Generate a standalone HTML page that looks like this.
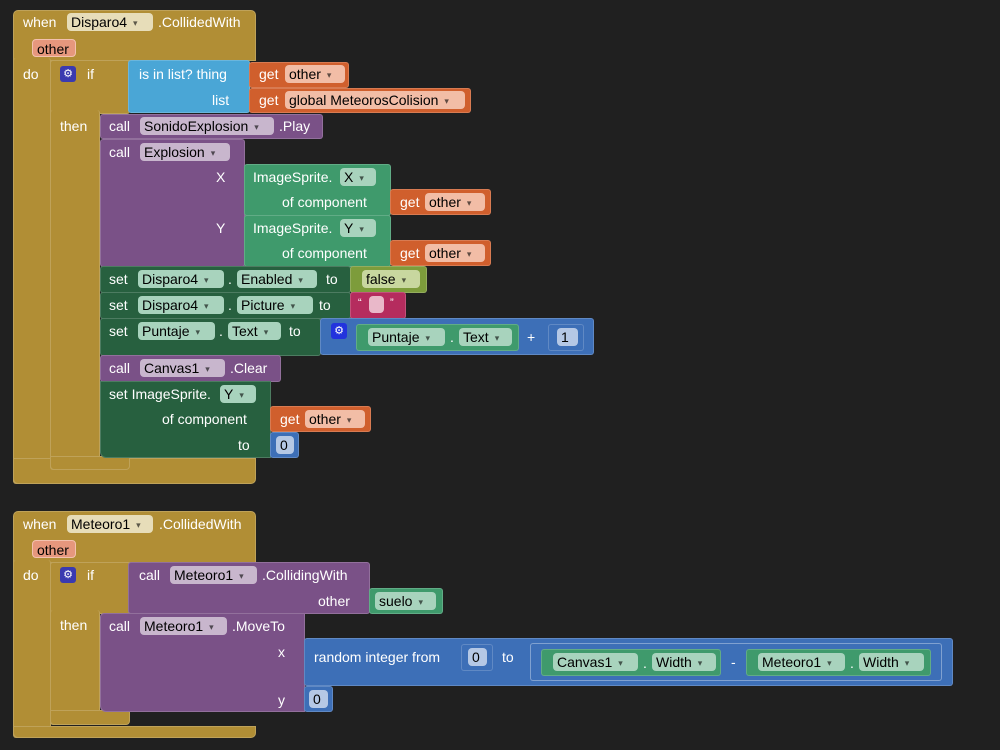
<!DOCTYPE html>
<html><head><meta charset="utf-8"><style>
body{margin:0;background:#202020;width:1000px;height:750px;overflow:hidden;position:relative;font-family:"Liberation Sans",sans-serif;font-size:14px}
.b{position:absolute;box-sizing:border-box;border:1px solid rgba(255,255,255,.18);border-radius:3px}
.t{position:absolute;color:#fff;line-height:16px;white-space:nowrap}
.d{position:absolute;height:18px;line-height:18px;border-radius:4px;padding:0 4px;color:#000;white-space:nowrap;box-sizing:border-box}
.d i{font-style:normal;font-size:9px;margin-left:6px;opacity:.6;vertical-align:1px}
.g{background:#b18e35}.p{background:#7a5187}.o{background:#d05f2d}.gr{background:#3f9a6c}.dg{background:#27603f}.bl{background:#3d6fb7}
.fg{background:#e7ddb9}.fo{background:#f2bda6}.fgr{background:#a8d3bd}.fp{background:#c8b6cd}.fb{background:#b5c8e5}
</style></head><body>

<!-- Event 1 -->
<div class="b g" style="left:13px;top:10px;width:243px;height:51px;border-radius:5px 5px 0 0"></div>
<div class="b g" style="left:13px;top:58px;width:38px;height:426px;border-top:none"></div>
<div class="b g" style="left:13px;top:458px;width:243px;height:26px;border-radius:0 0 5px 5px"></div>
<div class="t" style="left:23px;top:14px">when</div>
<div class="d fg" style="left:67px;top:13px;width:86px">Disparo4<i>▾</i></div>
<div class="t" style="left:158px;top:14px">.CollidedWith</div>
<div class="d" style="left:32px;top:39px;width:44px;background:#e6977d;border:1px solid #f3c1ae">other</div>
<div class="t" style="left:23px;top:66px">do</div>

<div class="b g" style="left:50px;top:60px;width:80px;height:54px"></div>
<div class="b g" style="left:50px;top:110px;width:50px;height:360px;border-top:none"></div>
<div class="b g" style="left:50px;top:456px;width:80px;height:14px;border-radius:0 0 4px 4px"></div>
<div style="position:absolute;left:60px;top:66px;width:16px;height:16px;background:#3a3ab0;border-radius:3px;color:#fff;font-size:11px;text-align:center;line-height:16px">⚙</div>
<div class="t" style="left:87px;top:66px">if</div>
<div class="t" style="left:60px;top:118px">then</div>

<div class="b" style="left:128px;top:60px;width:122px;height:53px;background:#4aa6d6"></div>
<div class="t" style="left:139px;top:66px">is in list? thing</div>
<div class="t" style="left:212px;top:92px">list</div>
<div class="b o" style="left:249px;top:62px;width:100px;height:26px"></div>
<div class="t" style="left:259px;top:66px">get</div>
<div class="d fo" style="left:285px;top:65px;width:60px">other<i>▾</i></div>
<div class="b o" style="left:249px;top:88px;width:222px;height:25px"></div>
<div class="t" style="left:259px;top:92px">get</div>
<div class="d fo" style="left:285px;top:91px;width:180px">global MeteorosColision<i>▾</i></div>

<div class="b p" style="left:100px;top:114px;width:223px;height:25px"></div>
<div class="t" style="left:109px;top:118px">call</div>
<div class="d fp" style="left:140px;top:117px;width:134px">SonidoExplosion<i>▾</i></div>
<div class="t" style="left:279px;top:118px">.Play</div>

<div class="b p" style="left:100px;top:139px;width:145px;height:128px"></div>
<div class="t" style="left:109px;top:144px">call</div>
<div class="d fp" style="left:140px;top:143px;width:90px">Explosion<i>▾</i></div>
<div class="t" style="left:216px;top:169px">X</div>
<div class="t" style="left:216px;top:220px">Y</div>
<div class="b gr" style="left:244px;top:164px;width:147px;height:52px"></div>
<div class="t" style="left:253px;top:169px">ImageSprite.</div>
<div class="d fgr" style="left:340px;top:168px;width:36px">X<i>▾</i></div>
<div class="t" style="left:282px;top:194px">of component</div>
<div class="b o" style="left:390px;top:189px;width:101px;height:26px"></div>
<div class="t" style="left:400px;top:194px">get</div>
<div class="d fo" style="left:425px;top:193px;width:60px">other<i>▾</i></div>
<div class="b gr" style="left:244px;top:215px;width:147px;height:52px"></div>
<div class="t" style="left:253px;top:220px">ImageSprite.</div>
<div class="d fgr" style="left:340px;top:219px;width:36px">Y<i>▾</i></div>
<div class="t" style="left:282px;top:245px">of component</div>
<div class="b o" style="left:390px;top:240px;width:101px;height:26px"></div>
<div class="t" style="left:400px;top:245px">get</div>
<div class="d fo" style="left:425px;top:244px;width:60px">other<i>▾</i></div>

<div class="b dg" style="left:100px;top:266px;width:251px;height:27px"></div>
<div class="t" style="left:109px;top:271px">set</div>
<div class="d fgr" style="left:138px;top:270px;width:86px">Disparo4<i>▾</i></div>
<div class="t" style="left:228px;top:271px">.</div>
<div class="d fgr" style="left:237px;top:270px;width:80px">Enabled<i>▾</i></div>
<div class="t" style="left:326px;top:271px">to</div>
<div class="b" style="left:350px;top:266px;width:77px;height:27px;background:#7d9c3b"></div>
<div class="d" style="left:362px;top:270px;width:58px;background:#c8d79f">false<i>▾</i></div>

<div class="b dg" style="left:100px;top:292px;width:251px;height:27px"></div>
<div class="t" style="left:109px;top:297px">set</div>
<div class="d fgr" style="left:138px;top:296px;width:86px">Disparo4<i>▾</i></div>
<div class="t" style="left:228px;top:297px">.</div>
<div class="d fgr" style="left:237px;top:296px;width:76px">Picture<i>▾</i></div>
<div class="t" style="left:319px;top:297px">to</div>
<div class="b" style="left:350px;top:292px;width:56px;height:27px;background:#b52c5e"></div>
<div class="t" style="left:358px;top:295px;font-size:11px">“</div>
<div style="position:absolute;left:369px;top:296px;width:15px;height:17px;background:#e9b8c9;border-radius:4px"></div>
<div class="t" style="left:390px;top:295px;font-size:11px">”</div>

<div class="b dg" style="left:100px;top:318px;width:221px;height:38px"></div>
<div class="t" style="left:109px;top:323px">set</div>
<div class="d fgr" style="left:138px;top:322px;width:77px">Puntaje<i>▾</i></div>
<div class="t" style="left:219px;top:323px">.</div>
<div class="d fgr" style="left:228px;top:322px;width:53px">Text<i>▾</i></div>
<div class="t" style="left:289px;top:323px">to</div>
<div class="b bl" style="left:320px;top:318px;width:274px;height:37px"></div>
<div style="position:absolute;left:331px;top:323px;width:16px;height:16px;background:#2233dd;border-radius:3px;color:#fff;font-size:11px;text-align:center;line-height:16px">⚙</div>
<div class="b gr" style="left:356px;top:324px;width:163px;height:27px"></div>
<div class="d fgr" style="left:368px;top:328px;width:77px">Puntaje<i>▾</i></div>
<div class="t" style="left:450px;top:329px">.</div>
<div class="d fgr" style="left:459px;top:328px;width:53px">Text<i>▾</i></div>
<div class="t" style="left:527px;top:329px">+</div>
<div class="b bl" style="left:548px;top:324px;width:36px;height:27px"></div>
<div class="d fb" style="left:557px;top:328px;width:21px">1</div>

<div class="b p" style="left:100px;top:355px;width:181px;height:27px"></div>
<div class="t" style="left:109px;top:360px">call</div>
<div class="d fp" style="left:140px;top:359px;width:85px">Canvas1<i>▾</i></div>
<div class="t" style="left:230px;top:360px">.Clear</div>

<div class="b dg" style="left:100px;top:381px;width:171px;height:77px;border-radius:0 0 0 6px"></div>
<div class="t" style="left:109px;top:386px">set ImageSprite.</div>
<div class="d fgr" style="left:220px;top:385px;width:36px">Y<i>▾</i></div>
<div class="t" style="left:162px;top:411px">of component</div>
<div class="t" style="left:238px;top:437px">to</div>
<div class="b o" style="left:270px;top:406px;width:101px;height:26px"></div>
<div class="t" style="left:280px;top:411px">get</div>
<div class="d fo" style="left:305px;top:410px;width:60px">other<i>▾</i></div>
<div class="b bl" style="left:270px;top:432px;width:29px;height:26px"></div>
<div class="d fb" style="left:276px;top:436px;width:18px">0</div>

<!-- Event 2 -->
<div class="b g" style="left:13px;top:511px;width:243px;height:52px;border-radius:5px 5px 0 0"></div>
<div class="b g" style="left:13px;top:560px;width:38px;height:178px;border-top:none"></div>
<div class="b g" style="left:13px;top:726px;width:243px;height:12px;border-radius:0 0 5px 5px"></div>
<div class="t" style="left:23px;top:516px">when</div>
<div class="d fg" style="left:67px;top:515px;width:86px">Meteoro1<i>▾</i></div>
<div class="t" style="left:159px;top:516px">.CollidedWith</div>
<div class="d" style="left:32px;top:540px;width:44px;background:#e6977d;border:1px solid #f3c1ae">other</div>
<div class="t" style="left:23px;top:567px">do</div>

<div class="b g" style="left:50px;top:562px;width:80px;height:52px"></div>
<div class="b g" style="left:50px;top:610px;width:50px;height:115px;border-top:none"></div>
<div class="b g" style="left:50px;top:710px;width:80px;height:15px;border-radius:0 0 4px 4px"></div>
<div style="position:absolute;left:60px;top:567px;width:16px;height:16px;background:#3a3ab0;border-radius:3px;color:#fff;font-size:11px;text-align:center;line-height:16px">⚙</div>
<div class="t" style="left:87px;top:567px">if</div>
<div class="t" style="left:60px;top:617px">then</div>

<div class="b p" style="left:128px;top:562px;width:242px;height:52px"></div>
<div class="t" style="left:139px;top:567px">call</div>
<div class="d fp" style="left:170px;top:566px;width:87px">Meteoro1<i>▾</i></div>
<div class="t" style="left:262px;top:567px">.CollidingWith</div>
<div class="t" style="left:318px;top:593px">other</div>
<div class="b gr" style="left:369px;top:588px;width:74px;height:26px"></div>
<div class="d fgr" style="left:375px;top:592px;width:61px">suelo<i>▾</i></div>

<div class="b p" style="left:100px;top:613px;width:205px;height:99px;border-radius:4px 0 0 6px"></div>
<div class="t" style="left:109px;top:618px">call</div>
<div class="d fp" style="left:140px;top:617px;width:87px">Meteoro1<i>▾</i></div>
<div class="t" style="left:232px;top:618px">.MoveTo</div>
<div class="t" style="left:278px;top:644px">x</div>
<div class="t" style="left:278px;top:692px">y</div>

<div class="b bl" style="left:304px;top:638px;width:649px;height:48px"></div>
<div class="t" style="left:314px;top:649px">random integer from</div>
<div class="b bl" style="left:461px;top:644px;width:32px;height:27px"></div>
<div class="d fb" style="left:468px;top:648px;width:19px">0</div>
<div class="t" style="left:502px;top:649px">to</div>
<div class="b bl" style="left:530px;top:643px;width:412px;height:38px;border-color:rgba(255,255,255,.35)"></div>
<div class="b gr" style="left:541px;top:649px;width:180px;height:27px"></div>
<div class="d fgr" style="left:553px;top:653px;width:85px">Canvas1<i>▾</i></div>
<div class="t" style="left:643px;top:655px">.</div>
<div class="d fgr" style="left:652px;top:653px;width:64px">Width<i>▾</i></div>
<div class="t" style="left:731px;top:654px">-</div>
<div class="b gr" style="left:746px;top:649px;width:185px;height:27px"></div>
<div class="d fgr" style="left:758px;top:653px;width:87px">Meteoro1<i>▾</i></div>
<div class="t" style="left:850px;top:655px">.</div>
<div class="d fgr" style="left:859px;top:653px;width:65px">Width<i>▾</i></div>

<div class="b bl" style="left:304px;top:686px;width:29px;height:26px"></div>
<div class="d fb" style="left:309px;top:690px;width:19px">0</div>
</body></html>
